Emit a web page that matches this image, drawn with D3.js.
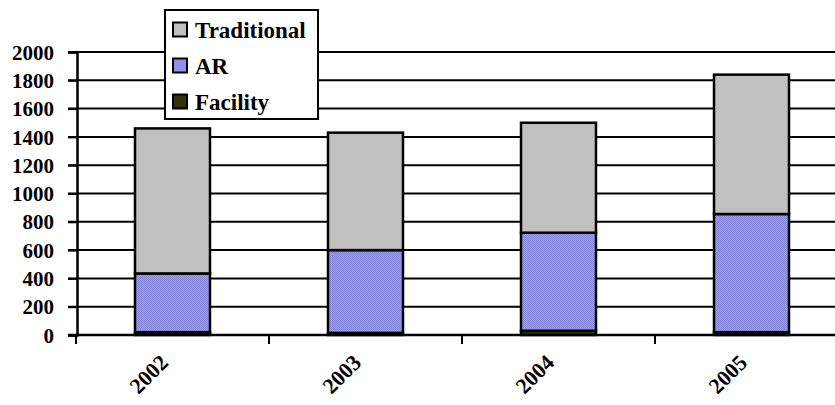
<!DOCTYPE html>
<html>
<head>
<meta charset="utf-8">
<script src="https://cdn.jsdelivr.net/npm/d3@7"></script>
<style>
  body { margin: 0; background: #fff; }
  svg { display: block; }
  text { font-family: "Liberation Serif", "Times New Roman", serif; font-weight: bold; }
</style>
</head>
<body>
<script>
// data
const years = ['2002', '2003', '2004', '2005']
const facility = [20, 15, 30, 20]
const ar = [415, 585, 693, 835]
const traditional = [1025, 830, 777, 985]
const yTicks = [0, 200, 400, 600, 800, 1000, 1200, 1400, 1600, 1800, 2000]
const seriesNames = ['Traditional', 'AR', 'Facility']

const W = 835, H = 405
const svg = d3.select('body').append('svg')
  .attr('width', W)
  .attr('height', H)

// dotted fill for AR
const defs = svg.append('defs')
const pat = defs.append('pattern')
  .attr('id', 'arDots')
  .attr('width', 2).attr('height', 2)
  .attr('patternUnits', 'userSpaceOnUse')
pat.append('rect').attr('width', 2).attr('height', 2).attr('fill', '#9c9cf2')
pat.append('rect').attr('width', 1).attr('height', 1).attr('fill', '#8585dc')
pat.append('rect').attr('x', 1).attr('y', 1).attr('width', 1).attr('height', 1).attr('fill', '#8585dc')

const colors = {
  Traditional: '#c0c0c0',
  AR: 'url(#arDots)',
  Facility: '#333300'
}

const x = d3.scaleBand()
  .domain(years)
  .range([76, 848])

const y = d3.scaleLinear()
  .domain([0, 2000])
  .range([335, 52])

// gridlines
svg.append('g').selectAll('line')
  .data(yTicks)
  .enter()
  .append('line')
  .attr('x1', 68)
  .attr('x2', W)
  .attr('y1', d => y(d))
  .attr('y2', d => y(d))
  .attr('stroke', '#000')
  .attr('stroke-width', 2)

// stacked bars
const rows = years.map((yr, i) => ({
  year: yr, Facility: facility[i], AR: ar[i], Traditional: traditional[i]
}))
const stack = d3.stack().keys(['Facility', 'AR', 'Traditional'])(rows)

const barW = 75
svg.append('g').selectAll('g')
  .data(stack)
  .enter()
  .append('g')
  .attr('fill', d => colors[d.key])
  .selectAll('rect')
  .data(d => d)
  .enter()
  .append('rect')
  .attr('x', d => x(d.data.year) + x.bandwidth() / 2 - barW / 2)
  .attr('y', d => y(d[1]))
  .attr('width', barW)
  .attr('height', d => y(d[0]) - y(d[1]))
  .attr('stroke', '#000')
  .attr('stroke-width', 2.5)

// y axis
const yAxis = d3.axisLeft(y)
  .tickValues(yTicks)
  .tickFormat(d3.format('d'))
  .tickSize(9)
  .tickPadding(14)
const ya = svg.append('g')
  .attr('transform', 'translate(77,0)')
  .call(yAxis)
ya.attr('font-family', null).attr('font-size', null)
ya.select('.domain').attr('stroke', '#000').attr('stroke-width', 2.5)
ya.selectAll('.tick line').attr('stroke', '#000').attr('stroke-width', 2)
ya.selectAll('text')
  .attr('font-size', 21)
  .attr('fill', '#000')
  .attr('dy', '0.34em')

// x axis line with ticks between categories
svg.append('line')
  .attr('x1', 68).attr('x2', W)
  .attr('y1', y(0)).attr('y2', y(0))
  .attr('stroke', '#000').attr('stroke-width', 2.5)

svg.append('g').selectAll('line')
  .data(years)
  .enter()
  .append('line')
  .attr('x1', d => x(d))
  .attr('x2', d => x(d))
  .attr('y1', y(0))
  .attr('y2', y(0) + 9)
  .attr('stroke', '#000')
  .attr('stroke-width', 2)

svg.append('g').selectAll('text')
  .data(years)
  .enter()
  .append('text')
  .attr('transform', d => `translate(${x(d) + x.bandwidth() / 2 - 3},${y(0) + 29}) rotate(-45)`)
  .attr('text-anchor', 'end')
  .attr('font-size', 22)
  .text(d => d)

// legend
const lg = svg.append('g').attr('transform', 'translate(165,10)')
lg.append('rect')
  .attr('width', 153)
  .attr('height', 109)
  .attr('fill', '#fff')
  .attr('stroke', '#000')
  .attr('stroke-width', 2)

const item = lg.selectAll('g.item')
  .data(seriesNames)
  .enter()
  .append('g')
  .attr('class', 'item')
  .attr('transform', (d, i) => `translate(8,${19.5 + i * 36})`)

item.append('rect')
  .attr('x', 0)
  .attr('y', -7)
  .attr('width', 14)
  .attr('height', 14)
  .attr('fill', d => colors[d])
  .attr('stroke', '#000')
  .attr('stroke-width', 2)

item.append('text')
  .attr('x', 22)
  .attr('y', 8.5)
  .attr('font-size', 23)
  .text(d => d)
</script>
</body>
</html>
